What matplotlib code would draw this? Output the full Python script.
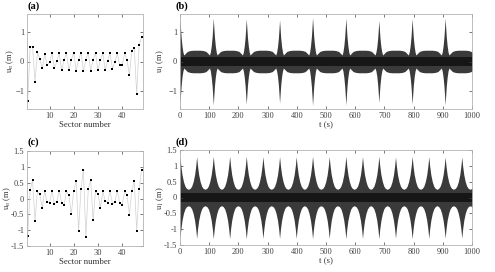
import numpy as np
import matplotlib.pyplot as plt

plt.rcParams['font.family'] = ['Liberation Serif', 'DejaVu Serif']
plt.rcParams['mathtext.fontset'] = 'stix'

# mode shapes over the 48 sectors
sectors = list(range(1, 49))
un_a = [-1.33, 0.50, 0.50, -0.68, 0.31, 0.09, -0.23, 0.26, -0.13, -0.03,
        0.27, -0.23, 0.01, 0.27, -0.29, 0.06, 0.28, -0.30, 0.06, 0.29,
        -0.32, 0.06, 0.29, -0.32, 0.06, 0.29, -0.31, 0.06, 0.29, -0.30,
        0.05, 0.28, -0.29, 0.03, 0.27, -0.24, -0.01, 0.27, -0.13, -0.13,
        0.27, 0.06, -0.46, 0.37, 0.44, -1.09, 0.57, 0.82]
un_c = [-1.19, 0.28, 0.58, -0.71, 0.23, 0.13, -0.29, 0.23, -0.11, -0.14,
        0.25, -0.17, -0.11, 0.25, -0.13, -0.21, 0.23, 0.11, -0.49, 0.25,
        0.55, -1.02, 0.31, 0.91, -1.21, 0.29, 0.59, -0.69, 0.23, 0.14,
        -0.29, 0.23, -0.09, -0.13, 0.25, -0.17, -0.11, 0.25, -0.14, -0.21,
        0.23, 0.11, -0.51, 0.25, 0.55, -1.02, 0.29, 0.91]

# time response envelopes
# (b): burst centres, burst peaks, and the envelope around one burst
burst_t_b = [0, 114, 227, 341, 454, 568, 681, 795, 908, 1022]
burst_pk_b = [1.42, 1.46, 1.44, 1.40, 1.48, 1.46, 1.38, 1.44, 1.46, 1.45]
prof_dt_b = [0, 2, 4, 7, 10, 13, 18, 25, 35, 45, 56.9]
prof_amp_b = [1.45, 1.12, 0.82, 0.52, 0.32, 0.22, 0.27, 0.34, 0.37, 0.38, 0.38]
core_b = 0.14

# (d)
burst_t_d = [0, 57, 114, 170, 227, 284, 341, 398, 454, 511, 568, 625,
             681, 738, 795, 852, 908, 965, 1022]
burst_pk_d = [1.28, 1.29, 1.30, 1.30, 1.30, 1.29, 1.29, 1.29, 1.30, 1.29,
              1.30, 1.29, 1.30, 1.28, 1.30, 1.29, 1.28, 1.28, 1.28]
prof_dt_d = [0, 3, 7, 12, 17, 22, 28.4]
prof_amp_d = [1.29, 1.0, 0.72, 0.50, 0.36, 0.29, 0.26]
core_d = 0.13


def envelope(centres, peaks, dts, amps):
    ts, vs = [], []
    for c, p in zip(centres, peaks):
        for dt, a in zip(dts, amps):
            # scale only the spike part with the burst peak
            a2 = a * p / amps[0] if a > 0.4 else a
            ts += [c - dt, c + dt]
            vs += [a2, a2]
    order = np.argsort(ts)
    return np.array(ts)[order], np.array(vs)[order]


def style(ax):
    ax.tick_params(direction='in', top=True, right=True, length=2.5,
                   width=0.5, colors='0.25', labelsize=6, pad=2)
    for s in ax.spines.values():
        s.set_color('0.7')
        s.set_linewidth(0.6)


fig = plt.figure(figsize=(4.95, 2.72), dpi=100)
W, H = 495, 272


def add_ax(l, r, t, b):
    return fig.add_axes([l / W, 1 - b / H, (r - l) / W, (b - t) / H])


ax_a = add_ax(27, 143, 14, 109)
ax_b = add_ax(180, 472, 14, 109)
ax_c = add_ax(27, 143, 151, 246)
ax_d = add_ax(180, 472, 150, 245)

for ax, un in [(ax_a, un_a), (ax_c, un_c)]:
    ax.plot(sectors, un, '-', color='0.82', lw=0.5)
    ax.plot(sectors, un, 's', color='black', ms=1.8, mew=0)
    ax.set_xlim(0.7, 48.6)
    ax.set_xticks([10, 20, 30, 40])
    ax.set_xlabel('Sector number', fontsize=6.3, color='0.2', labelpad=1)
    style(ax)

ax_a.set_ylim(-1.6, 1.6)
ax_a.set_yticks([-1, 0, 1])
ax_c.set_ylim(-1.5, 1.5)
ax_c.set_yticks([-1.5, -1, -0.5, 0, 0.5, 1, 1.5])
ax_c.set_yticklabels(['-1.5', '-1', '-0.5', '0', '0.5', '1', '1.5'])

for ax, data, core in [(ax_b, (burst_t_b, burst_pk_b, prof_dt_b, prof_amp_b), core_b),
                       (ax_d, (burst_t_d, burst_pk_d, prof_dt_d, prof_amp_d), core_d)]:
    t, env = envelope(*data)
    ax.fill_between(t, -env, env, color='#3a3a3a', lw=0)
    ax.axhspan(-core, core, color='#161616', lw=0)
    ax.set_xlim(0, 1000)
    ax.set_xticks(range(0, 1001, 100))
    ax.set_xlabel('t (s)', fontsize=6.3, color='0.2', labelpad=1)
    style(ax)

ax_b.set_ylim(-1.6, 1.6)
ax_b.set_yticks([-1, 0, 1])
ax_d.set_ylim(-1.5, 1.5)
ax_d.set_yticks([-1.5, -1, -0.5, 0, 0.5, 1, 1.5])
ax_d.set_yticklabels(['-1.5', '-1', '-0.5', '0', '0.5', '1', '1.5'])

# y labels at fixed pixel columns
for lab, x, y in [(r'u$_n$ (m)', 10, 61), (r'u$_n$ (m)', 7, 198),
                  (r'u$_1$ (m)', 160, 61), (r'u$_1$ (m)', 160, 198)]:
    fig.text(x / W, 1 - y / H, lab, fontsize=6, color='0.2', rotation=90,
             ha='center', va='center')

for lab, x, y in [('(a)', 27, 6), ('(b)', 176, 6), ('(c)', 27, 142), ('(d)', 176, 142)]:
    fig.text(x / W, 1 - y / H, lab, fontsize=7.5, fontweight='bold',
             va='center', ha='left')

fig.savefig('out.png', dpi=100)
